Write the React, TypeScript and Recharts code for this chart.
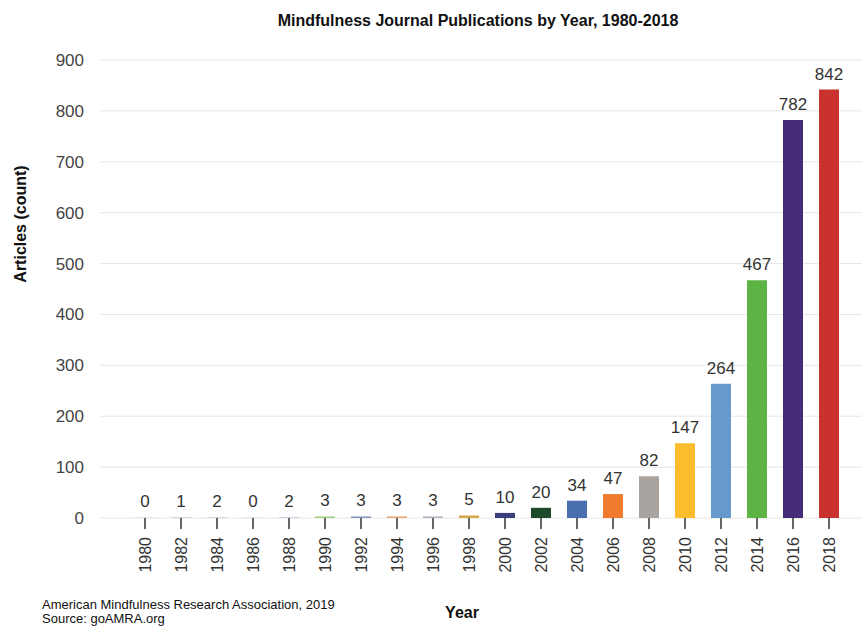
import React from 'react';
import { BarChart, Bar, XAxis, YAxis, CartesianGrid, Cell, LabelList } from 'recharts';

document.body.style.margin = '0';

const years = ['1980', '1982', '1984', '1986', '1988', '1990', '1992', '1994', '1996', '1998',
  '2000', '2002', '2004', '2006', '2008', '2010', '2012', '2014', '2016', '2018'];
const articles = [0, 1, 2, 0, 2, 3, 3, 3, 3, 5, 10, 20, 34, 47, 82, 147, 264, 467, 782, 842];
const barColors = ['#e6e6e6', '#d6d6d6', '#d3d8e0', '#e6e6e6', '#c9cde0', '#a3cf7f', '#8496b5', '#e8a56f',
  '#b3aec4', '#d2a94c', '#3b3f7c', '#1d4a2a', '#4a6fae', '#f07b2f', '#a9a39f', '#fbbd2b',
  '#6699cc', '#5db444', '#462b78', '#c9322e'];
const yTicks = [0, 100, 200, 300, 400, 500, 600, 700, 800, 900];

const data = years.map((year, i) => ({ year, count: articles[i] }));

const font = '"Liberation Sans", Arial, sans-serif';

const YearTick = (props: any) => {
  const { x, y, payload } = props;
  return (
    <g transform={`translate(${x},${y})`}>
      <text transform="rotate(-90)" textAnchor="end" dy="0.35em" fontSize={16} fill="#333" fontFamily={font}>
        {payload.value}
      </text>
    </g>
  );
};

export default function App() {
  return (
    <div style={{ width: 864, height: 626, background: '#fff', fontFamily: font }}>
      <BarChart width={864} height={626} data={data} margin={{ top: 60, right: 2, left: 40, bottom: 78 }}
        barCategoryGap={8}>
        <text x={478} y={26} textAnchor="middle" fontSize={16} fontWeight="bold" fill="#111" fontFamily={font}>
          Mindfulness Journal Publications by Year, 1980-2018
        </text>
        <text x={26} y={224} transform="rotate(-90 26 224)" textAnchor="middle" fontSize={16} fontWeight="bold"
          fill="#111" fontFamily={font}>
          Articles (count)
        </text>
        <text x={462} y={618} textAnchor="middle" fontSize={16} fontWeight="bold" fill="#111" fontFamily={font}>
          Year
        </text>
        <text x={42} y={609} fontSize={13} fill="#111" fontFamily={font}>
          American Mindfulness Research Association, 2019
        </text>
        <text x={42} y={623} fontSize={13} fill="#111" fontFamily={font}>
          Source: goAMRA.org
        </text>
        <CartesianGrid vertical={false} stroke="#e6e6e6" />
        <XAxis dataKey="year" height={30} axisLine={false} tickSize={11} tickMargin={8}
          tickLine={{ stroke: '#333', strokeWidth: 1.5 }} padding={{ left: 27, right: 15 }}
          tick={<YearTick />} interval={0} />
        <YAxis domain={[0, 900]} ticks={yTicks} width={60} axisLine={false} tickLine={false}
          tickSize={0} tickMargin={16} tick={{ fontSize: 17, fill: '#444', fontFamily: font }} />
        <Bar dataKey="count" minPointSize={1} isAnimationActive={false}>
          {data.map((d, i) => (
            <Cell key={d.year} fill={barColors[i]} />
          ))}
          <LabelList dataKey="count" position="top" offset={10} fontSize={17} fill="#333" fontFamily={font} />
        </Bar>
      </BarChart>
    </div>
  );
}
